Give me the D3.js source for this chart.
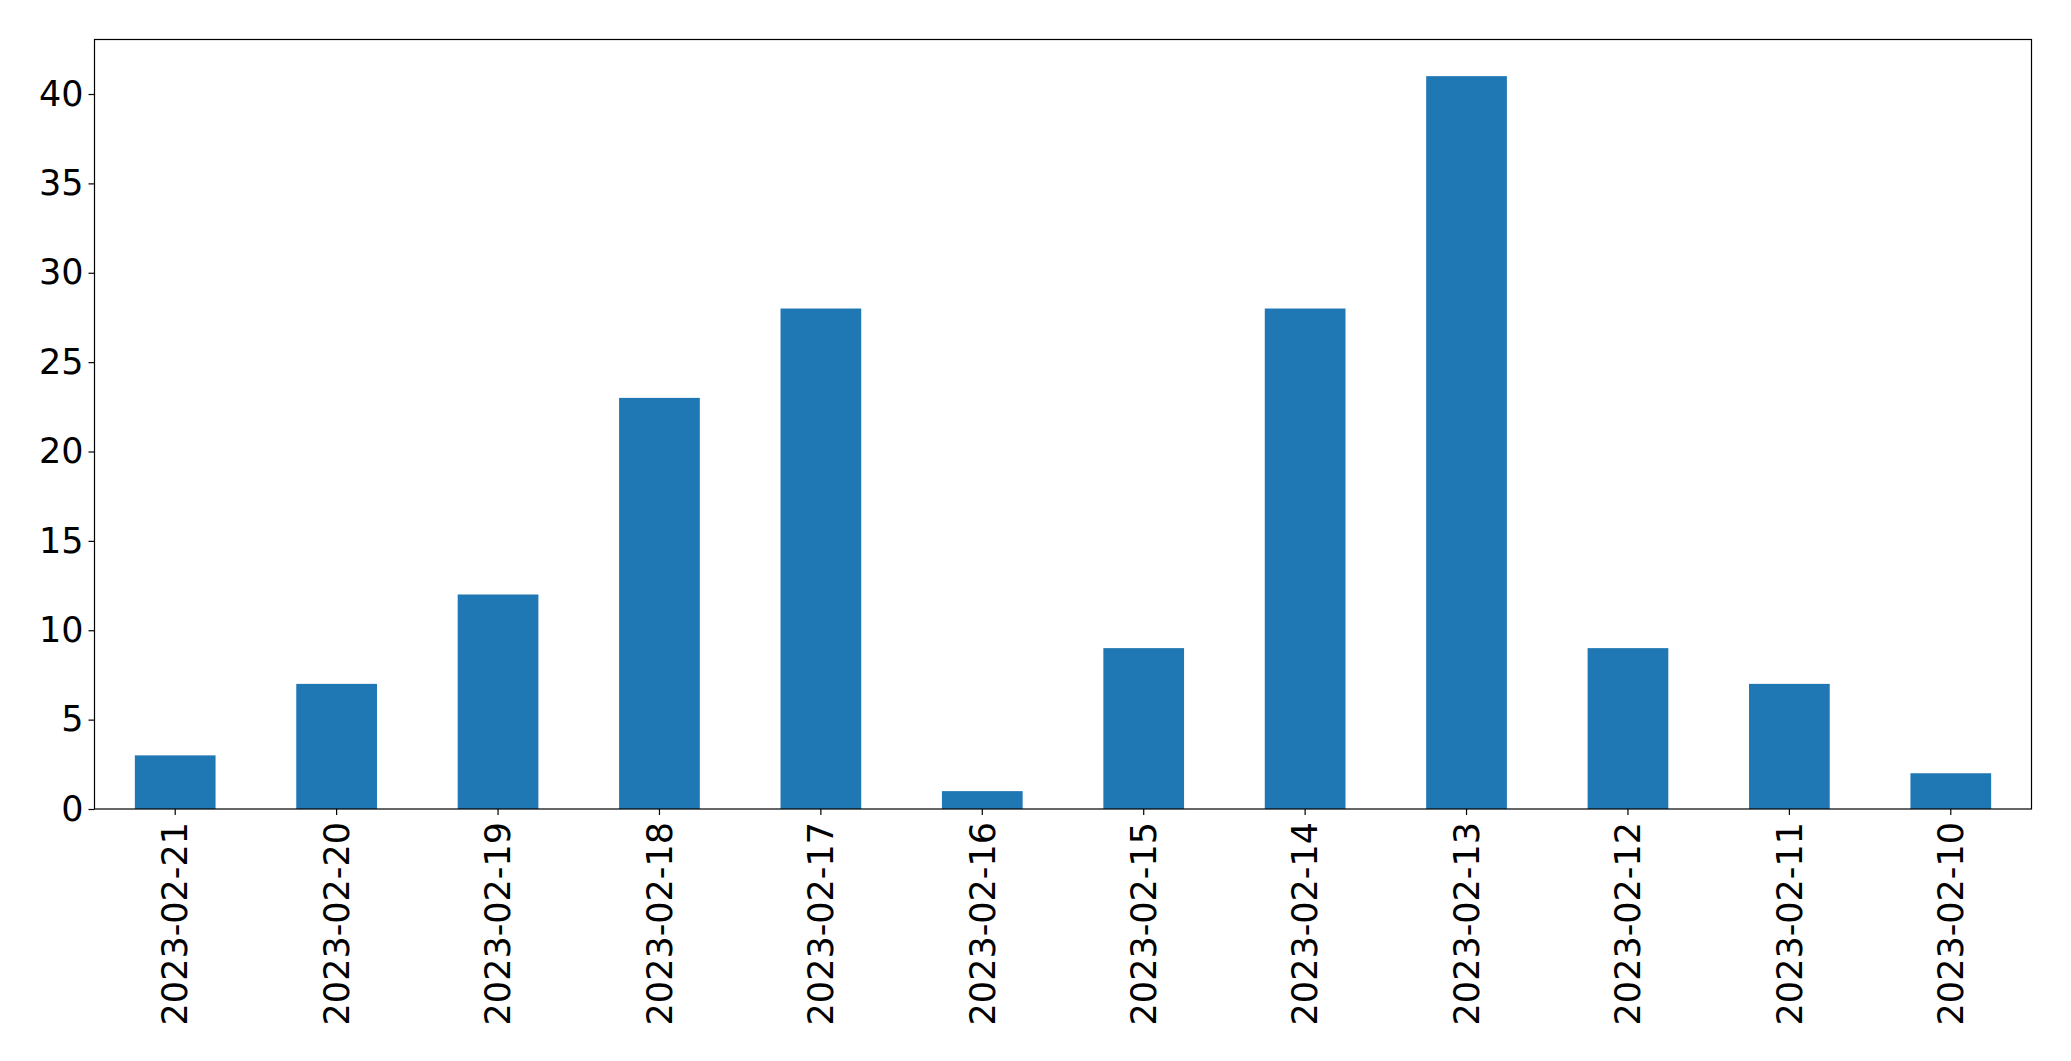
<!DOCTYPE html>
<html><head><meta charset="utf-8">
<script src="https://cdn.jsdelivr.net/npm/d3@7"></script>
<style>body{margin:0;background:#fff}svg{display:block}</style>
</head><body>
<script>
const categories = ["2023-02-21","2023-02-20","2023-02-19","2023-02-18","2023-02-17","2023-02-16","2023-02-15","2023-02-14","2023-02-13","2023-02-12","2023-02-11","2023-02-10"];
const values = [3,7,12,23,28,1,9,28,41,9,7,2];
const yTicks = [0,5,10,15,20,25,30,35,40];

const W = 2071, H = 1061;
const L = 94.5, R = 2031.5, T = 39.5, B = 809;
const svg = d3.select("body").append("svg").attr("width", W).attr("height", H);

const x = d3.scaleBand().domain(categories).range([L, R]).paddingInner(0.5).paddingOuter(0.25);
const y = d3.scaleLinear().domain([0, d3.max(values) * 1.05]).range([B, T]);

svg.append("g").selectAll("rect").data(values).join("rect")
  .attr("x", (d, i) => x(categories[i]))
  .attr("width", x.bandwidth())
  .attr("y", d => y(d))
  .attr("height", d => B - y(d))
  .attr("fill", "#1f77b4");

const font = "DejaVu Sans";
const yAxis = svg.append("g").attr("transform", `translate(${L},0)`)
  .call(d3.axisLeft(y).tickValues(yTicks).tickSize(6).tickPadding(5).tickFormat(d3.format("d")));
yAxis.select(".domain").remove();
yAxis.selectAll("text").attr("font-family", font).attr("font-size", 35).attr("fill", "#000");
yAxis.selectAll("line").attr("stroke", "#000").attr("stroke-width", 1.2);

const xAxis = svg.append("g").attr("transform", `translate(0,${B})`)
  .call(d3.axisBottom(x).tickSize(6).tickPadding(0));
xAxis.select(".domain").remove();
xAxis.selectAll("line").attr("stroke", "#000").attr("stroke-width", 1.2);
xAxis.selectAll("text")
  .attr("font-family", font).attr("font-size", 35).attr("fill", "#000")
  .attr("text-anchor", "end")
  .attr("transform", "translate(0,13) rotate(-90)")
  .attr("x", 0).attr("y", 0).attr("dy", "0.35em");

svg.append("rect").attr("x", L).attr("y", T).attr("width", R - L).attr("height", B - T)
  .attr("fill", "none").attr("stroke", "#000").attr("stroke-width", 1.2);
</script>
</body></html>
